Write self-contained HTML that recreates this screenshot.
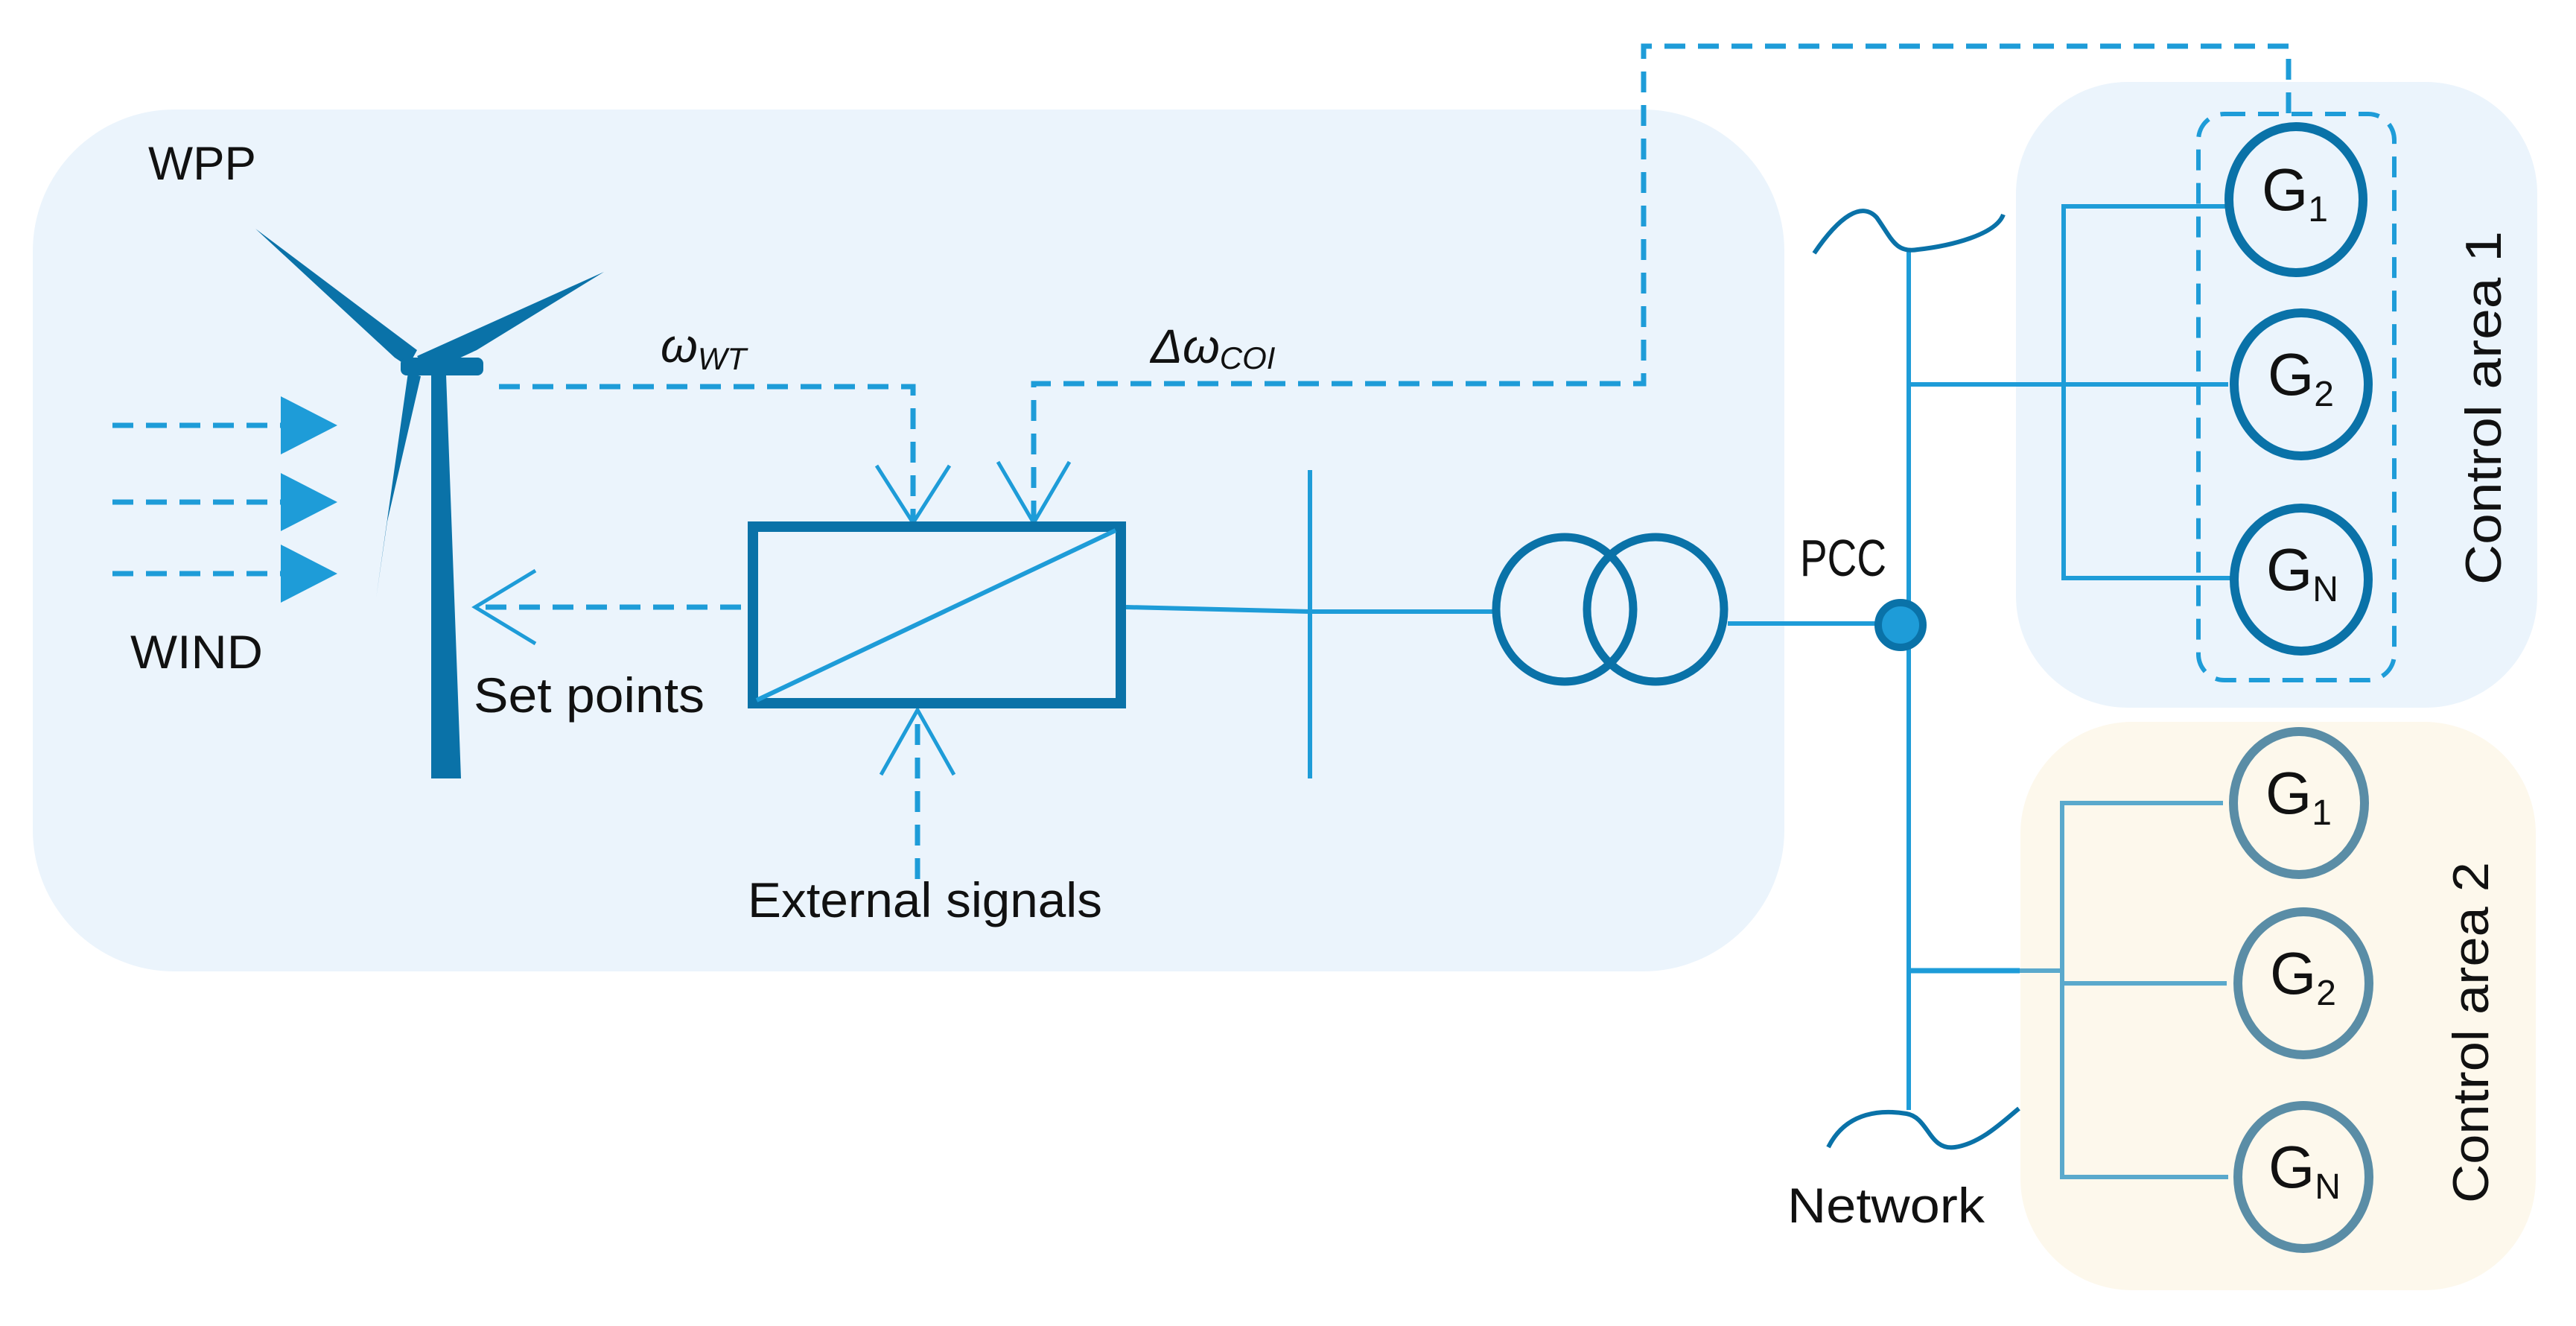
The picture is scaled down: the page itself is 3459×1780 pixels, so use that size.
<!DOCTYPE html>
<html><head><meta charset="utf-8"><style>
html,body{margin:0;padding:0;background:#fff;}
svg{display:block;}
text{font-family:"Liberation Sans",sans-serif;fill:#111;}
</style></head><body>
<svg width="3459" height="1780" viewBox="0 0 3459 1780" xmlns="http://www.w3.org/2000/svg">
<!-- background panels -->
<rect x="44" y="147" width="2352" height="1157" rx="190" ry="190" fill="#ebf4fc"/>
<rect x="2707" y="110" width="700" height="840" rx="150" ry="150" fill="#ebf4fc"/>
<rect x="2713" y="969" width="692" height="763" rx="150" ry="150" fill="#fdf8ec"/>

<g fill="none" stroke="#1e9cd8" stroke-width="7" stroke-dasharray="28 17">
  <!-- top COI dashed path -->
  <polyline points="1388,700 1388,515 2207,515 2207,62 3073,62 3073,153"/>
  <!-- omega WT -->
  <polyline points="670,519 1226,519 1226,700"/>
  <!-- wind arrows -->
  <line x1="151" y1="571" x2="377" y2="571"/>
  <line x1="151" y1="674" x2="377" y2="674"/>
  <line x1="151" y1="770" x2="377" y2="770"/>
  <!-- set points -->
  <line x1="995" y1="815" x2="640" y2="815"/>
  <!-- external signals -->
  <line x1="1232" y1="1180" x2="1232" y2="955"/>
  <!-- dashed group box -->
  <rect x="2952" y="153" width="263" height="760" rx="35" ry="35" stroke-width="6"/>
</g>

<!-- wind triangles -->
<g fill="#1e9cd8">
  <polygon points="377,532 453,571 377,610"/>
  <polygon points="377,635 453,674 377,713"/>
  <polygon points="377,731 453,770 377,809"/>
</g>

<!-- open arrowheads -->
<g fill="none" stroke="#1e9cd8" stroke-width="5">
  <polyline points="719,766 638,815 719,864"/>
  <polyline points="1177,625 1226,702 1275,625"/>
  <polyline points="1340,620 1388,702 1436,620"/>
  <polyline points="1183,1040 1232,953 1281,1040"/>
</g>

<!-- wind turbine -->
<g fill="#0a72a8">
  <polygon points="579,503 599,503 619,1045 579,1045"/>
  <polygon points="343,307 560,470 548,492 530,480"/>
  <polygon points="811,365 560,478 575,500 640,470"/>
  <polygon points="505,803 548,500 565,505 520,700"/>
  <rect x="538" y="480" width="111" height="24" rx="8"/>
</g>

<!-- converter box -->
<rect x="1011" y="707" width="494" height="237" fill="none" stroke="#0a72a8" stroke-width="14"/>
<line x1="1016" y1="940" x2="1498" y2="712" stroke="#1e9cd8" stroke-width="6"/>

<!-- electrical lines -->
<g stroke="#1e9cd8" stroke-width="6" fill="none">
  <line x1="1512" y1="815" x2="1759" y2="821"/>
  <line x1="1759" y1="821" x2="2005" y2="821"/>
  <line x1="1759" y1="631" x2="1759" y2="1045"/>
  <line x1="2320" y1="837" x2="2552" y2="837"/>
  <line x1="2563" y1="333" x2="2563" y2="1490"/>
  <!-- area1 branches -->
  <line x1="2563" y1="516" x2="2992" y2="516"/>
  <polyline points="2988,277 2771,277 2771,776 2997,776"/>
  <line x1="2771" y1="516" x2="2771" y2="516"/>
</g>
<g stroke="#5aa9cc" stroke-width="6" fill="none">
  <line x1="2563" y1="1303" x2="2771" y2="1303"/>
  <polyline points="2985,1078 2769,1078 2769,1580 2992,1580"/>
  <line x1="2769" y1="1320" x2="2990" y2="1320"/>
</g>
<line x1="2563" y1="1303" x2="2712" y2="1303" stroke="#1e9cd8" stroke-width="7"/>

<!-- wavy lines -->
<g stroke="#0a72a8" stroke-width="6" fill="none">
  <path d="M2436,340 C2470,290 2500,270 2520,292 C2540,320 2545,340 2575,335 C2620,330 2680,315 2690,288"/>
  <path d="M2455,1540 C2480,1490 2530,1490 2560,1495 C2590,1500 2590,1545 2625,1540 C2660,1535 2690,1505 2711,1488"/>
</g>

<!-- transformer -->
<g fill="none" stroke="#0a72a8" stroke-width="11">
  <ellipse cx="2101" cy="818" rx="92" ry="97"/>
  <ellipse cx="2223" cy="818" rx="92" ry="97"/>
</g>

<!-- PCC dot -->
<circle cx="2552" cy="839" r="30" fill="#1e9cd8" stroke="#0a72a8" stroke-width="10"/>

<!-- generators area 1 -->
<g fill="#ebf4fc" stroke="#0a72a8" stroke-width="12">
  <ellipse cx="3083" cy="268" rx="90" ry="98"/>
  <ellipse cx="3090" cy="516" rx="90" ry="96"/>
  <ellipse cx="3090" cy="778" rx="90" ry="96"/>
</g>
<!-- generators area 2 -->
<g fill="#fdf8ec" stroke="#5a8da6" stroke-width="12">
  <ellipse cx="3087" cy="1078" rx="88" ry="96"/>
  <ellipse cx="3093" cy="1320" rx="88" ry="96"/>
  <ellipse cx="3093" cy="1580" rx="88" ry="96"/>
</g>

<!-- G labels -->
<g font-size="80">
  <text x="3037" y="282">G<tspan font-size="48" dy="15">1</tspan></text>
  <text x="3045" y="530">G<tspan font-size="48" dy="15">2</tspan></text>
  <text x="3043" y="792">G<tspan font-size="48" dy="15">N</tspan></text>
  <text x="3042" y="1092" fill="#222">G<tspan font-size="48" dy="15">1</tspan></text>
  <text x="3048" y="1334">G<tspan font-size="48" dy="15">2</tspan></text>
  <text x="3046" y="1594">G<tspan font-size="48" dy="15">N</tspan></text>
</g>

<!-- text labels -->
<text x="199" y="241" font-size="63" textLength="145" lengthAdjust="spacingAndGlyphs">WPP</text>
<text x="175" y="897" font-size="63" textLength="178" lengthAdjust="spacingAndGlyphs">WIND</text>
<text x="636" y="956" font-size="66" textLength="310" lengthAdjust="spacingAndGlyphs">Set points</text>
<text x="1004" y="1231" font-size="66" textLength="476" lengthAdjust="spacingAndGlyphs">External signals</text>
<text x="2417" y="773" font-size="70" textLength="116" lengthAdjust="spacingAndGlyphs">PCC</text>
<text x="2400" y="1641" font-size="66" textLength="265" lengthAdjust="spacingAndGlyphs">Network</text>
<text x="887" y="486" font-size="64" font-style="italic">ω<tspan font-size="42" dy="10">WT</tspan></text>
<text x="1545" y="487" font-size="64" font-style="italic">Δω<tspan font-size="42" dy="8">COI</tspan></text>
<text transform="translate(3358,785) rotate(-90)" font-size="68" textLength="475" lengthAdjust="spacingAndGlyphs">Control area 1</text>
<text transform="translate(3341,1615) rotate(-90)" font-size="68" textLength="458" lengthAdjust="spacingAndGlyphs">Control area 2</text>
</svg>
</body></html>
